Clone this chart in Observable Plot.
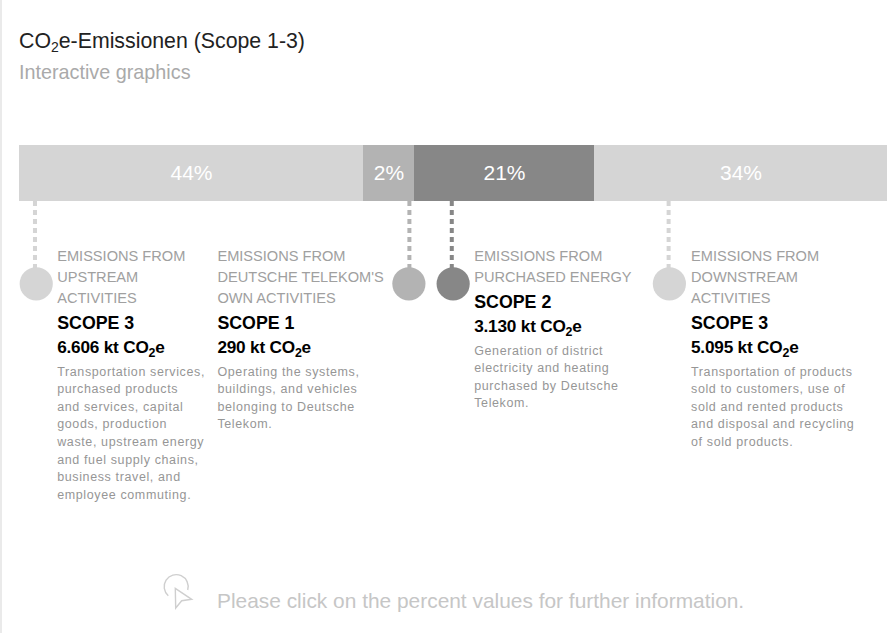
<!DOCTYPE html>
<html><head><meta charset="utf-8">
<script src="https://cdn.jsdelivr.net/npm/d3@7"></script>
<script src="https://cdn.jsdelivr.net/npm/@observablehq/plot@0.6"></script>
<style>
html,body{margin:0;padding:0;background:#fff;overflow:hidden}
#page{position:relative;width:893px;height:633px;font-family:Roboto,sans-serif}
#edge{position:absolute;left:0;top:0;width:2px;height:633px;background:#eaeaea}
#title{position:absolute;left:19px;top:28px;font-size:21.3px;line-height:26px;color:#222;font-family:"Liberation Sans",sans-serif}
#title sub{font-size:14px;line-height:0;vertical-align:-4px}
#subtitle{position:absolute;left:19px;top:60px;font-size:19.8px;line-height:24px;color:#aaa;font-family:"Liberation Sans",sans-serif}
#chart{position:absolute;left:0;top:110px}
#foot{position:absolute;left:217px;top:589px;font-size:20.9px;line-height:24px;color:#c6c6c6;font-family:"Liberation Sans",sans-serif}
#icon{position:absolute;left:160px;top:572px}
</style></head>
<body><div id="page">
<div id="edge"></div>
<div id="title">CO<sub>2</sub>e-Emissionen (Scope 1-3)</div>
<div id="subtitle">Interactive graphics</div>
<div id="chart"></div>
<svg id="icon" width="36" height="40" viewBox="0 0 36 40" fill="none" stroke="#cfcfcf" stroke-width="1.4">
<path d="M8.3 23.7 A12 12 0 1 1 27.7 18"/>
<path d="M15.3 16.3 L31.7 27.3 L21.7 28.7 L15.7 36 Z" fill="#fff"/>
</svg>
<div id="foot">Please click on the percent values for further information.</div>
</div>
<script>
const percents = [44, 2, 21, 34];
const labels = ["44%", "2%", "21%", "34%"];
const barColors = ["#d5d5d5", "#b3b3b3", "#878787", "#d5d5d5"];
const markerAt = [1.98, 45.8, 50.35, 75.6];
const dotAt = [2.14, 45.78, 50.51, 75.69];
const headings = [
  ["EMISSIONS FROM", "UPSTREAM", "ACTIVITIES"],
  ["EMISSIONS FROM", "DEUTSCHE TELEKOM'S", "OWN ACTIVITIES"],
  ["EMISSIONS FROM", "PURCHASED ENERGY"],
  ["EMISSIONS FROM", "DOWNSTREAM", "ACTIVITIES"]
];
const scopes = ["SCOPE 3", "SCOPE 1", "SCOPE 2", "SCOPE 3"];
const amounts = ["6.606 kt CO₂e", "290 kt CO₂e", "3.130 kt CO₂e", "5.095 kt CO₂e"];
const descriptions = [
  ["Transportation services,", "purchased products", "and services, capital", "goods, production", "waste, upstream energy", "and fuel supply chains,", "business travel, and", "employee commuting."],
  ["Operating the systems,", "buildings, and vehicles", "belonging to Deutsche", "Telekom."],
  ["Generation of district", "electricity and heating", "purchased by Deutsche", "Telekom."],
  ["Transportation of products", "sold to customers, use of", "sold and rented products", "and disposal and recycling", "of sold products."]
];

// layout
const textDx = [22.2, -192, 22.4, 22.4];
const font = {fontFamily: "'Liberation Sans', sans-serif", textAnchor: "start"};
const cum = [0, ...d3.cumsum(percents)];
const segments = percents.map((p, i) => ({i, x1: cum[i], x2: cum[i + 1], mid: (cum[i] + cum[i + 1]) / 2, label: labels[i], color: barColors[i]}));
const markers = markerAt.map((x, i) => ({x, dot: dotAt[i], color: barColors[i], i}));

const textMarks = [];
headings.forEach((lines, i) => {
  const x = markerAt[i], dx = textDx[i];
  let rows = lines.map((t, k) => ({t, y: 256 + k * 21}));
  const after = 256 + (lines.length - 1) * 21;
  textMarks.push(Plot.text(rows, {x: () => x, y: "y", text: "t", dx, fontSize: 14.6, fill: "#a0a0a0", ...font}));
  textMarks.push(Plot.text([scopes[i]], {x: () => x, y: () => after + 25, text: d => d, dx, fontSize: 17.8, fontWeight: 700, fill: "#000", ...font}));
  textMarks.push(Plot.text([amounts[i]], {x: () => x, y: () => after + 49, text: d => d, dx, fontSize: 17.2, fontWeight: 700, fill: "#000", ...font}));
  const desc = descriptions[i].map((t, k) => ({t, y: after + 73 + k * 17.6}));
  textMarks.push(Plot.text(desc, {x: () => x, y: "y", text: "t", dx, fontSize: 12.5, fill: "#969696", ...font}));
});

const plot = Plot.plot({
  width: 893, height: 450,
  marginTop: 0, marginRight: 0, marginBottom: 0, marginLeft: 0,
  x: {type: "linear", domain: cum, range: [19, 363, 414, 594, 887], axis: null},
  y: {type: "linear", domain: [110, 560], range: [0, 450], axis: null},
  marks: [
    Plot.rect(segments, {x1: "x1", x2: "x2", y1: () => 145, y2: () => 201, fill: "color"}),
    Plot.text(segments, {x: "mid", y: () => 172.5, text: "label", fill: "#fff", fontSize: 21, fontFamily: "'Liberation Sans', sans-serif"}),
    Plot.ruleX(markers, {x: "x", y1: () => 201, y2: () => 268, stroke: "color", strokeWidth: 4, strokeDasharray: "5 4"}),
    Plot.dot(markers, {x: "dot", y: () => 283.3, r: 16.6, fill: "color", stroke: null}),
    ...textMarks
  ]
});
document.getElementById("chart").appendChild(plot);
d3.select(plot).selectAll("text").each(function () {
  const t = this.textContent;
  // true subscript for the 2 of CO2e
  if (t.includes("₂")) {
    const [a, b] = t.split("₂");
    const s = d3.select(this).text(null).style("letter-spacing", "-0.2px");
    s.append("tspan").text(a);
    s.append("tspan").attr("dy", 3.5).attr("font-size", "0.72em").text("2");
    s.append("tspan").attr("dy", -3.5).text(b);
  }
});
// description lines are loosely tracked in the reference
d3.select(plot).selectAll("g[font-size='12.5'] text, g[font-size='12.5']").style("letter-spacing", "0.62px");
</script>
</body></html>
